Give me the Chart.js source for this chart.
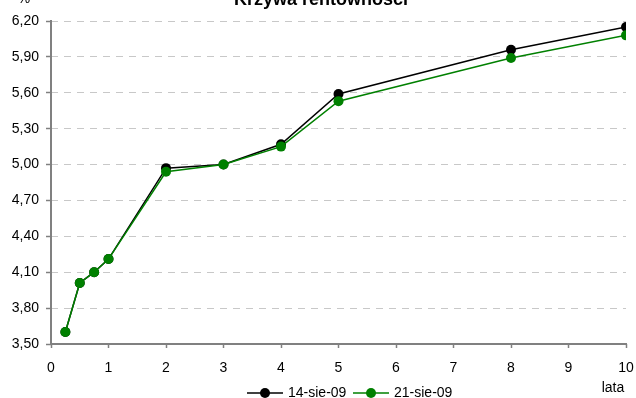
<!DOCTYPE html>
<html>
<head>
<meta charset="utf-8">
<script src="https://cdn.jsdelivr.net/npm/chart.js@4"></script>
<style>
  html, body { margin: 0; padding: 0; background: #fff; }
</style>
</head>
<body>
<canvas id="yieldChart" width="636" height="398"></canvas>
<script>
// maturities (years) and yields (%)
const maturities = [0.25, 0.5, 0.75, 1, 2, 3, 4, 5, 8, 10];
const yields0814 = [3.60, 4.01, 4.10, 4.21, 4.97, 5.00, 5.17, 5.59, 5.96, 6.15];
const yields0821 = [3.60, 4.01, 4.10, 4.21, 4.94, 5.00, 5.15, 5.53, 5.89, 6.08];
const seriesNames = ['14-sie-09', '21-sie-09'];
const seriesColors = ['#000000', '#008000'];
const chartTitle = 'Krzywa rentowności';
const yUnit = '%';
const xUnit = 'lata';

const FONT = 'Liberation Sans, Arial, sans-serif';

const toPoints = (ys) => maturities.map((m, i) => ({ x: m, y: ys[i] }));

const extras = {
    id: 'extras',
    afterDraw(chart) {
        const { ctx, chartArea } = chart;
        ctx.save();
        // axes
        ctx.strokeStyle = '#808080';
        ctx.lineWidth = 2;
        ctx.beginPath();
        ctx.moveTo(chartArea.left, chartArea.top - 1);
        ctx.lineTo(chartArea.left, chartArea.bottom);
        ctx.lineTo(chartArea.right + 1, chartArea.bottom);
        ctx.stroke();

        // title and unit labels
        ctx.fillStyle = '#000';
        ctx.textAlign = 'center';
        ctx.textBaseline = 'alphabetic';
        ctx.font = 'bold 18px ' + FONT;
        ctx.fillText(chartTitle, 321, 5);
        ctx.font = '14px ' + FONT;
        ctx.fillText(yUnit, 24, 3);
        ctx.fillText(xUnit, 613, 392);

        // legend
        const legendY = 393;
        const items = [{ x: 247 }, { x: 353 }];
        items.forEach((it, i) => {
            ctx.strokeStyle = seriesColors[i];
            ctx.lineWidth = 1.5;
            ctx.beginPath();
            ctx.moveTo(it.x, legendY);
            ctx.lineTo(it.x + 36, legendY);
            ctx.stroke();
            ctx.fillStyle = seriesColors[i];
            ctx.beginPath();
            ctx.arc(it.x + 18, legendY, 5, 0, Math.PI * 2);
            ctx.fill();
            ctx.fillStyle = '#000';
            ctx.textAlign = 'left';
            ctx.textBaseline = 'middle';
            ctx.font = '14px ' + FONT;
            ctx.fillText(seriesNames[i], it.x + 41, legendY);
        });
        ctx.restore();
    }
};

new Chart(document.getElementById('yieldChart'), {
    type: 'line',
    data: {
        datasets: [
            {
                label: seriesNames[0],
                data: toPoints(yields0814),
                borderColor: seriesColors[0],
                backgroundColor: seriesColors[0],
                borderWidth: 1.5,
                pointRadius: 5,
                pointBorderWidth: 0,
                order: 1
            },
            {
                label: seriesNames[1],
                data: toPoints(yields0821),
                borderColor: seriesColors[1],
                backgroundColor: seriesColors[1],
                borderWidth: 1.5,
                pointRadius: 5,
                pointBorderWidth: 0,
                order: 0
            }
        ]
    },
    options: {
        responsive: false,
        animation: false,
        layout: { padding: { top: 21, right: 10, left: 0, bottom: 0 } },
        plugins: {
            legend: { display: false },
            title: { display: false },
            tooltip: { enabled: false }
        },
        scales: {
            x: {
                type: 'linear',
                min: 0,
                max: 10,
                afterFit: (scale) => {
                    scale.height = 54;
                    scale.paddingLeft = 0;
                    scale.paddingRight = 0;
                },
                ticks: {
                    stepSize: 1,
                    padding: 12,
                    color: '#000',
                    font: { family: FONT, size: 14 }
                },
                grid: {
                    drawOnChartArea: false,
                    drawTicks: true,
                    tickLength: 4,
                    tickColor: '#808080',
                    tickWidth: 1.5
                },
                border: { display: false }
            },
            y: {
                min: 3.5,
                max: 6.2,
                afterFit: (scale) => {
                    scale.width = 51;
                    scale.paddingTop = 0;
                    scale.paddingBottom = 0;
                },
                ticks: {
                    stepSize: 0.3,
                    padding: 7,
                    color: '#000',
                    font: { family: FONT, size: 14 },
                    callback: (v) => v.toFixed(2).replace('.', ',')
                },
                grid: {
                    color: '#c8c8c8',
                    lineWidth: 1,
                    tickLength: 5,
                    tickColor: '#808080',
                    tickWidth: 1.5
                },
                border: { display: false, dash: [7, 6] }
            }
        }
    },
    plugins: [extras]
});
</script>
</body>
</html>
